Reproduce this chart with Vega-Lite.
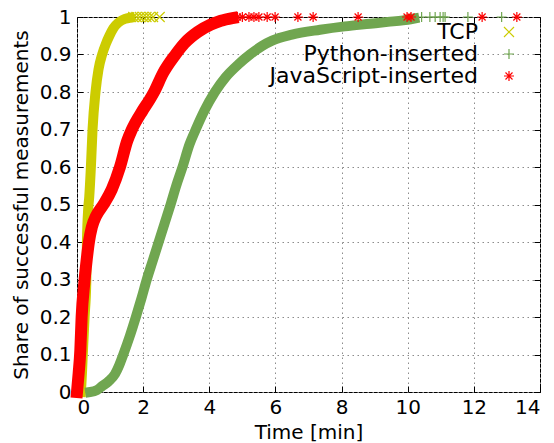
{
  "$schema": "https://vega.github.io/schema/vega-lite/v6.json",
  "width": 463,
  "height": 375,
  "autosize": "none",
  "padding": {"left": 77, "top": 17, "right": 14, "bottom": 51},
  "background": "white",
  "config": {
    "font": "DejaVu Sans",
    "view": {"stroke": "black", "strokeWidth": 1},
    "axis": {
      "domain": false,
      "tickColor": "black",
      "tickWidth": 1,
      "tickSize": -6,
      "labelFont": "DejaVu Sans",
      "labelFontSize": 20,
      "labelColor": "black",
      "titleFont": "DejaVu Sans",
      "titleFontSize": 20,
      "titleFontWeight": "normal",
      "titleColor": "black",
      "gridColor": "#8c8c8c",
      "gridDash": [1.5, 3.5],
      "gridWidth": 1,
      "gridOpacity": 1
    },
    "legend": {
      "labelFont": "DejaVu Sans",
      "labelFontSize": 22,
      "labelColor": "black",
      "labelLimit": 400
    }
  },
  "data": {
    "values": [
      {"series": "TCP", "part": "body", "t": 0.12, "share": 0.0},
      {"series": "TCP", "part": "body", "t": 0.15, "share": 0.05},
      {"series": "TCP", "part": "body", "t": 0.18, "share": 0.11},
      {"series": "TCP", "part": "body", "t": 0.23, "share": 0.2},
      {"series": "TCP", "part": "body", "t": 0.28, "share": 0.29},
      {"series": "TCP", "part": "body", "t": 0.3, "share": 0.4},
      {"series": "TCP", "part": "body", "t": 0.34, "share": 0.49},
      {"series": "TCP", "part": "body", "t": 0.37, "share": 0.52},
      {"series": "TCP", "part": "body", "t": 0.42, "share": 0.6},
      {"series": "TCP", "part": "body", "t": 0.47, "share": 0.7},
      {"series": "TCP", "part": "body", "t": 0.56, "share": 0.8},
      {"series": "TCP", "part": "body", "t": 0.65, "share": 0.86},
      {"series": "TCP", "part": "body", "t": 0.76, "share": 0.9},
      {"series": "TCP", "part": "body", "t": 0.88, "share": 0.93},
      {"series": "TCP", "part": "body", "t": 0.98, "share": 0.95},
      {"series": "TCP", "part": "body", "t": 1.1, "share": 0.97},
      {"series": "TCP", "part": "body", "t": 1.25, "share": 0.985},
      {"series": "TCP", "part": "body", "t": 1.45, "share": 0.995},
      {"series": "TCP", "part": "body", "t": 1.6, "share": 0.998},
      {"series": "TCP", "part": "tail", "t": 1.7, "share": 1},
      {"series": "TCP", "part": "tail", "t": 1.8, "share": 1},
      {"series": "TCP", "part": "tail", "t": 1.9, "share": 1},
      {"series": "TCP", "part": "tail", "t": 2.0, "share": 1},
      {"series": "TCP", "part": "tail", "t": 2.1, "share": 1},
      {"series": "TCP", "part": "tail", "t": 2.2, "share": 1},
      {"series": "TCP", "part": "tail", "t": 2.3, "share": 1},
      {"series": "TCP", "part": "tail", "t": 2.5, "share": 1},

      {"series": "Python-inserted", "part": "body", "t": 0.4, "share": 0.0},
      {"series": "Python-inserted", "part": "body", "t": 0.6, "share": 0.005},
      {"series": "Python-inserted", "part": "body", "t": 0.75, "share": 0.015},
      {"series": "Python-inserted", "part": "body", "t": 0.95, "share": 0.028},
      {"series": "Python-inserted", "part": "body", "t": 1.15, "share": 0.048},
      {"series": "Python-inserted", "part": "body", "t": 1.28, "share": 0.072},
      {"series": "Python-inserted", "part": "body", "t": 1.4, "share": 0.1},
      {"series": "Python-inserted", "part": "body", "t": 1.6, "share": 0.15},
      {"series": "Python-inserted", "part": "body", "t": 1.78, "share": 0.2},
      {"series": "Python-inserted", "part": "body", "t": 1.95, "share": 0.25},
      {"series": "Python-inserted", "part": "body", "t": 2.11, "share": 0.3},
      {"series": "Python-inserted", "part": "body", "t": 2.29, "share": 0.35},
      {"series": "Python-inserted", "part": "body", "t": 2.47, "share": 0.4},
      {"series": "Python-inserted", "part": "body", "t": 2.65, "share": 0.45},
      {"series": "Python-inserted", "part": "body", "t": 2.83, "share": 0.5},
      {"series": "Python-inserted", "part": "body", "t": 3.0, "share": 0.55},
      {"series": "Python-inserted", "part": "body", "t": 3.19, "share": 0.6},
      {"series": "Python-inserted", "part": "body", "t": 3.4, "share": 0.66},
      {"series": "Python-inserted", "part": "body", "t": 3.59, "share": 0.7},
      {"series": "Python-inserted", "part": "body", "t": 3.85, "share": 0.75},
      {"series": "Python-inserted", "part": "body", "t": 4.17, "share": 0.8},
      {"series": "Python-inserted", "part": "body", "t": 4.5, "share": 0.84},
      {"series": "Python-inserted", "part": "body", "t": 4.87, "share": 0.873},
      {"series": "Python-inserted", "part": "body", "t": 5.23, "share": 0.9},
      {"series": "Python-inserted", "part": "body", "t": 5.6, "share": 0.923},
      {"series": "Python-inserted", "part": "body", "t": 5.9, "share": 0.937},
      {"series": "Python-inserted", "part": "body", "t": 6.5, "share": 0.953},
      {"series": "Python-inserted", "part": "body", "t": 7.35, "share": 0.966},
      {"series": "Python-inserted", "part": "body", "t": 8.1, "share": 0.975},
      {"series": "Python-inserted", "part": "body", "t": 8.86, "share": 0.982},
      {"series": "Python-inserted", "part": "body", "t": 9.4, "share": 0.987},
      {"series": "Python-inserted", "part": "body", "t": 9.86, "share": 0.991},
      {"series": "Python-inserted", "part": "body", "t": 10.2, "share": 0.996},
      {"series": "Python-inserted", "part": "tail", "t": 10.42, "share": 1},
      {"series": "Python-inserted", "part": "tail", "t": 10.67, "share": 1},
      {"series": "Python-inserted", "part": "tail", "t": 10.83, "share": 1},
      {"series": "Python-inserted", "part": "tail", "t": 10.98, "share": 1},
      {"series": "Python-inserted", "part": "tail", "t": 11.07, "share": 1},
      {"series": "Python-inserted", "part": "tail", "t": 11.13, "share": 1},
      {"series": "Python-inserted", "part": "tail", "t": 11.82, "share": 1},
      {"series": "Python-inserted", "part": "tail", "t": 12.84, "share": 1},

      {"series": "JavaScript-inserted", "part": "body", "t": 0.0, "share": 0.0},
      {"series": "JavaScript-inserted", "part": "body", "t": 0.05, "share": 0.05},
      {"series": "JavaScript-inserted", "part": "body", "t": 0.1, "share": 0.11},
      {"series": "JavaScript-inserted", "part": "body", "t": 0.14, "share": 0.2},
      {"series": "JavaScript-inserted", "part": "body", "t": 0.22, "share": 0.29},
      {"series": "JavaScript-inserted", "part": "body", "t": 0.29, "share": 0.35},
      {"series": "JavaScript-inserted", "part": "body", "t": 0.36, "share": 0.4},
      {"series": "JavaScript-inserted", "part": "body", "t": 0.45, "share": 0.44},
      {"series": "JavaScript-inserted", "part": "body", "t": 0.58, "share": 0.47},
      {"series": "JavaScript-inserted", "part": "body", "t": 0.8, "share": 0.5},
      {"series": "JavaScript-inserted", "part": "body", "t": 1.05, "share": 0.54},
      {"series": "JavaScript-inserted", "part": "body", "t": 1.3, "share": 0.6},
      {"series": "JavaScript-inserted", "part": "body", "t": 1.52, "share": 0.67},
      {"series": "JavaScript-inserted", "part": "body", "t": 1.66, "share": 0.7},
      {"series": "JavaScript-inserted", "part": "body", "t": 1.98, "share": 0.75},
      {"series": "JavaScript-inserted", "part": "body", "t": 2.2, "share": 0.78},
      {"series": "JavaScript-inserted", "part": "body", "t": 2.33, "share": 0.8},
      {"series": "JavaScript-inserted", "part": "body", "t": 2.6, "share": 0.85},
      {"series": "JavaScript-inserted", "part": "body", "t": 2.98, "share": 0.9},
      {"series": "JavaScript-inserted", "part": "body", "t": 3.25, "share": 0.93},
      {"series": "JavaScript-inserted", "part": "body", "t": 3.65, "share": 0.96},
      {"series": "JavaScript-inserted", "part": "body", "t": 4.05, "share": 0.98},
      {"series": "JavaScript-inserted", "part": "body", "t": 4.35, "share": 0.99},
      {"series": "JavaScript-inserted", "part": "body", "t": 4.7, "share": 0.997},
      {"series": "JavaScript-inserted", "part": "tail", "t": 4.85, "share": 1},
      {"series": "JavaScript-inserted", "part": "tail", "t": 5.0, "share": 1},
      {"series": "JavaScript-inserted", "part": "tail", "t": 5.2, "share": 1},
      {"series": "JavaScript-inserted", "part": "tail", "t": 5.35, "share": 1},
      {"series": "JavaScript-inserted", "part": "tail", "t": 5.5, "share": 1},
      {"series": "JavaScript-inserted", "part": "tail", "t": 5.75, "share": 1},
      {"series": "JavaScript-inserted", "part": "tail", "t": 5.99, "share": 1},
      {"series": "JavaScript-inserted", "part": "tail", "t": 6.68, "share": 1},
      {"series": "JavaScript-inserted", "part": "tail", "t": 7.14, "share": 1},
      {"series": "JavaScript-inserted", "part": "tail", "t": 8.5, "share": 1},
      {"series": "JavaScript-inserted", "part": "tail", "t": 9.98, "share": 1},
      {"series": "JavaScript-inserted", "part": "tail", "t": 10.1, "share": 1},
      {"series": "JavaScript-inserted", "part": "tail", "t": 12.25, "share": 1},
      {"series": "JavaScript-inserted", "part": "tail", "t": 13.3, "share": 1}
    ]
  },
  "resolve": {"axis": {"x": "independent", "y": "independent"}},
  "layer": [
    {
      "transform": [{"filter": "datum.series === 'TCP' && datum.part === 'body'"}],
      "mark": {"type": "line", "color": "#cccc00", "strokeWidth": 10, "strokeCap": "square", "strokeJoin": "round", "interpolate": "monotone", "clip": false},
      "encoding": {
        "x": {
          "field": "t", "type": "quantitative",
          "scale": {"domain": [0, 14], "nice": false, "zero": false},
          "axis": {"title": "Time [min]", "values": [0, 2, 4, 6, 8, 10, 12, 14], "grid": true, "labelPadding": 11, "titlePadding": 5, "format": "~g"}
        },
        "y": {
          "field": "share", "type": "quantitative",
          "scale": {"domain": [0, 1], "nice": false},
          "axis": {"title": "Share of successful measurements", "values": [0, 0.1, 0.2, 0.3, 0.4, 0.5, 0.6, 0.7, 0.8, 0.9, 1], "grid": true, "labelPadding": 12, "titlePadding": 8, "format": "~g"}
        }
      }
    },
    {
      "transform": [{"filter": "datum.series === 'Python-inserted' && datum.part === 'body'"}],
      "mark": {"type": "line", "color": "#70a650", "strokeWidth": 10, "strokeCap": "square", "strokeJoin": "round", "interpolate": "monotone", "clip": false},
      "encoding": {
        "x": {"field": "t", "type": "quantitative", "axis": null},
        "y": {"field": "share", "type": "quantitative", "axis": null}
      }
    },
    {
      "transform": [{"filter": "datum.series === 'JavaScript-inserted' && datum.part === 'body'"}],
      "mark": {"type": "line", "color": "#ff0000", "strokeWidth": 12, "strokeCap": "square", "strokeJoin": "round", "interpolate": "monotone", "clip": false},
      "encoding": {
        "x": {"field": "t", "type": "quantitative", "axis": null},
        "y": {"field": "share", "type": "quantitative", "axis": null}
      }
    },
    {
      "transform": [{"filter": "datum.part === 'tail'"}],
      "mark": {"type": "point", "filled": false, "strokeWidth": 1.2, "opacity": 1, "size": 100, "clip": false},
      "encoding": {
        "x": {
          "field": "t", "type": "quantitative",
          "axis": {"orient": "top", "labels": false, "title": null, "grid": false, "values": [0, 2, 4, 6, 8, 10, 12, 14]}
        },
        "y": {
          "field": "share", "type": "quantitative",
          "axis": {"orient": "right", "labels": false, "title": null, "grid": false, "values": [0, 0.1, 0.2, 0.3, 0.4, 0.5, 0.6, 0.7, 0.8, 0.9, 1]}
        },
        "color": {
          "field": "series", "type": "nominal",
          "scale": {"domain": ["TCP", "Python-inserted", "JavaScript-inserted"], "range": ["#cccc00", "#70a650", "#ff0000"]},
          "legend": {
            "title": null, "orient": "none", "legendX": 421, "legendY": 4, "padding": 0,
            "direction": "vertical", "labelAlign": "right", "labelOffset": -42, "rowPadding": -12,
            "gridAlign": "all", "symbolStrokeWidth": 1.2, "symbolSize": 100
          }
        },
        "shape": {
          "field": "series", "type": "nominal",
          "scale": {
            "domain": ["TCP", "Python-inserted", "JavaScript-inserted"],
            "range": [
              "M-1,-1L1,1M-1,1L1,-1",
              "M-1,0L1,0M0,-1L0,1",
              "M-1,0L1,0M0,-1L0,1M-0.7,-0.7L0.7,0.7M-0.7,0.7L0.7,-0.7"
            ]
          },
          "legend": {
            "title": null, "orient": "none", "legendX": 421, "legendY": 4, "padding": 0,
            "direction": "vertical", "labelAlign": "right", "labelOffset": -42, "rowPadding": -12,
            "gridAlign": "all", "symbolStrokeWidth": 1.2, "symbolSize": 100
          }
        }
      }
    }
  ]
}
